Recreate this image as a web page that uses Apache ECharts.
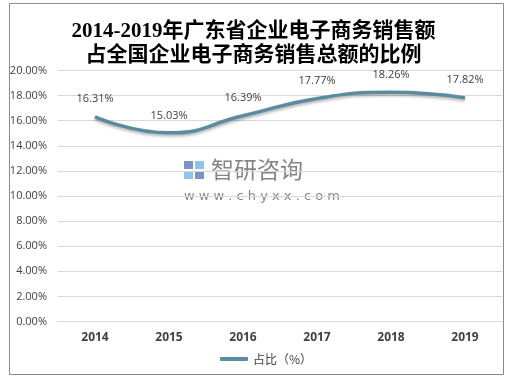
<!DOCTYPE html>
<html>
<head>
<meta charset="utf-8">
<script src="https://cdn.jsdelivr.net/npm/echarts@6/dist/echarts.min.js"></script>
<style>
  html, body { margin: 0; padding: 0; background: #fff; }
  #chart { width: 507px; height: 378px; }
</style>
</head>
<body>
<div id="chart"></div>
<script>
var years = ['2014', '2015', '2016', '2017', '2018', '2019'];
var shareValues = [16.31, 15.03, 16.39, 17.77, 18.26, 17.82];
var seriesName = '占比（%）';
var titleLines = ['2014-2019年广东省企业电子商务销售额', '占全国企业电子商务销售总额的比例'];

var chart = echarts.init(document.getElementById('chart'));

var option = {
    backgroundColor: '#fff',
    animation: false,
    title: {
        text: titleLines.join('\n'),
        left: 'center',
        top: 15,
        textStyle: {
            fontFamily: '"Liberation Serif", "Noto Sans CJK SC", serif',
            fontWeight: 'bold',
            fontSize: 21,
            lineHeight: 24,
            color: '#000'
        }
    },
    graphic: [
        {
            type: 'rect',
            shape: { x: 9.5, y: 3.5, width: 494, height: 371 },
            style: { fill: 'none', stroke: '#8a8a8a', lineWidth: 1 },
            silent: true
        },
        {
            type: 'group',
            left: 184,
            top: 158,
            silent: true,
            children: [
                { type: 'rect', shape: { x: 0, y: 2, width: 9, height: 8 }, style: { fill: '#7b93c9' } },
                { type: 'rect', shape: { x: 11, y: 2, width: 9, height: 8 }, style: { fill: '#8ec4ea' } },
                { type: 'rect', shape: { x: 0, y: 12, width: 9, height: 8 }, style: { fill: '#8ec4ea' } },
                { type: 'rect', shape: { x: 11, y: 12, width: 9, height: 8 }, style: { fill: '#7b93c9' } },
                {
                    type: 'text', x: 27, y: -1,
                    style: { text: '智研咨询', fontSize: 23, fill: '#858585', fontFamily: '"Noto Sans CJK SC", sans-serif' }
                },
                {
                    type: 'text', x: 0, y: 31,
                    style: { text: 'w w w . c h y x x . c o m', fontSize: 13, fill: '#858585', fontFamily: '"DejaVu Sans", sans-serif' }
                }
            ]
        }
    ],
    legend: {
        left: 215,
        top: 348,
        icon: 'roundRect',
        itemWidth: 28,
        itemHeight: 4,
        textStyle: { fontSize: 12, color: '#404040', fontFamily: '"Noto Sans CJK SC", sans-serif' },
        data: [seriesName]
    },
    grid: {
        left: 58,
        right: 5,
        top: 70.5,
        bottom: 56.5,
        containLabel: false
    },
    xAxis: {
        type: 'category',
        data: years,
        boundaryGap: true,
        axisLine: { lineStyle: { color: '#d9d9d9' } },
        axisTick: { show: false },
        axisLabel: {
            margin: 10,
            fontSize: 12,
            fontWeight: 'bold',
            color: '#404040',
            fontFamily: '"Open Sans", sans-serif'
        }
    },
    yAxis: {
        type: 'value',
        min: 0,
        max: 20,
        interval: 2,
        axisLine: { show: false },
        axisTick: { show: false },
        splitLine: { lineStyle: { color: '#d9d9d9' } },
        axisLabel: {
            margin: 11,
            fontSize: 11,
            color: '#404040',
            fontFamily: '"Open Sans", sans-serif',
            formatter: function (v) { return v.toFixed(2) + '%'; }
        }
    },
    series: [
        {
            name: seriesName,
            type: 'line',
            data: shareValues,
            smooth: 0.5,
            symbol: 'circle',
            symbolSize: 0.01,
            showSymbol: true,
            itemStyle: { color: '#5b8ba1' },
            lineStyle: {
                color: '#5b8ba1',
                width: 3.5,
                shadowColor: 'rgba(0,0,0,0.3)',
                shadowBlur: 3,
                shadowOffsetY: 2
            },
            label: {
                show: true,
                position: 'top',
                distance: 12,
                fontSize: 11,
                color: '#404040',
                fontFamily: '"Open Sans", sans-serif',
                formatter: function (p) { return p.value.toFixed(2) + '%'; }
            }
        }
    ]
};

chart.setOption(option);
</script>
</body>
</html>
